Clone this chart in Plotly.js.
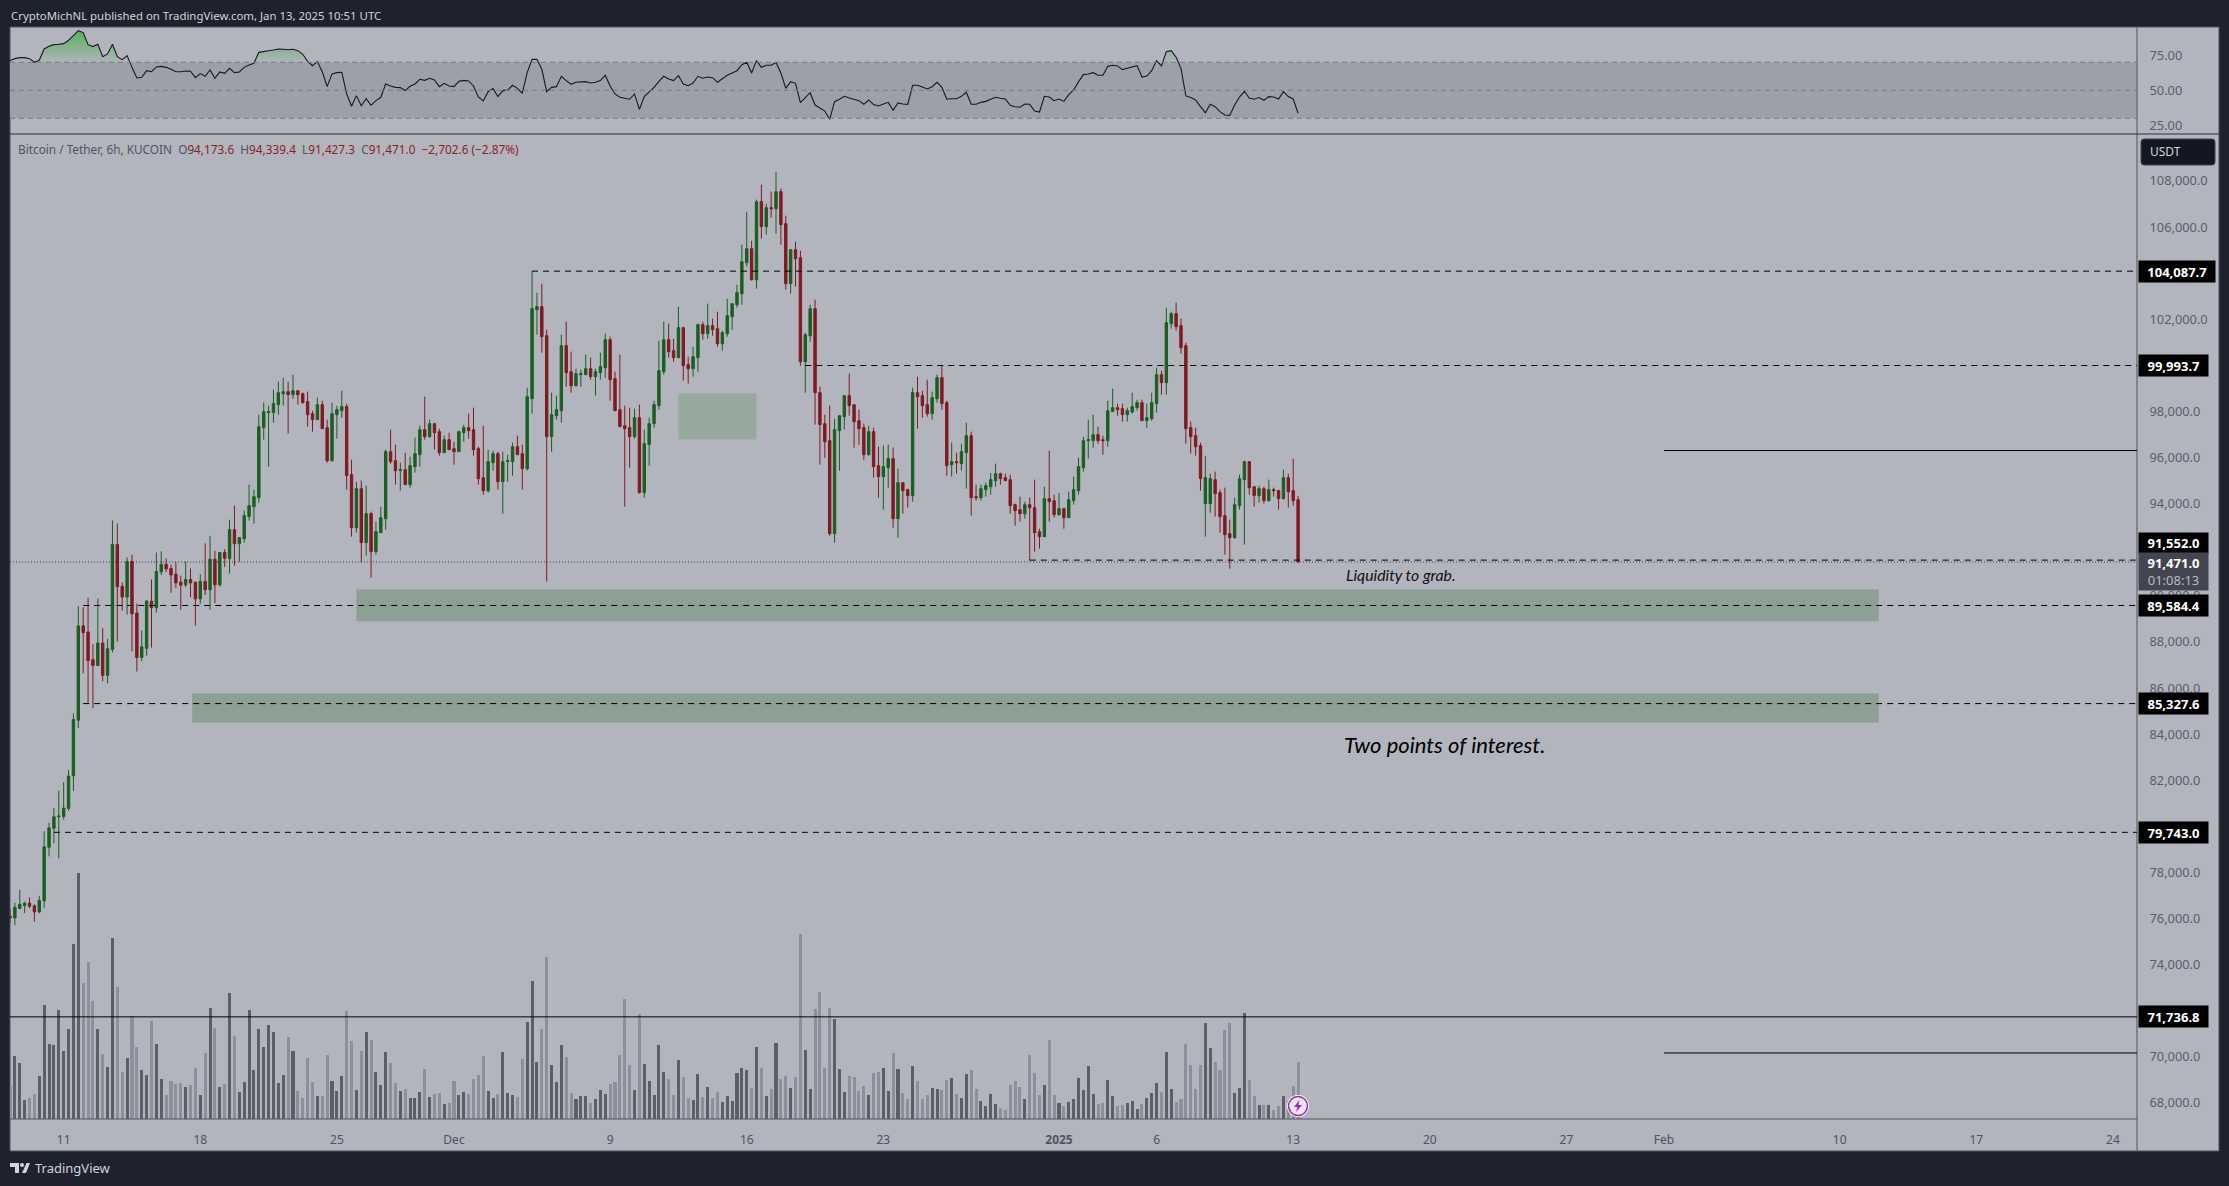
<!DOCTYPE html>
<html><head><meta charset="utf-8">
<script src="https://cdn.plot.ly/plotly-3.0.1.min.js"></script>
<style>html,body{margin:0;padding:0;background:#1e222d;overflow:hidden}#c{width:2229px;height:1186px}</style>
</head><body><div id="c"></div>
<script>
const firstBarUTC = Date.UTC(2024,10,8,6,0,0);
const barDir = ["duuudduuuu","uuuuudddud","uuddudduud","uuddddudd"+"u","dudududuuu","uuuuuuudud","dddudduuud","dududuuudd","uduuududdu","dduudddduu","duuudduuud","duuudduuud","uuudddddud","uuuuuddudd","uududduuuu","uududududd","udduuddddu","uuddddudd"+"u","ududdudddu","udduduuddu","uuudddddud","ddudduduuu","uuudduuddu","uuduuuduud","ddddduuddd","duuuddudud","duddd"].join("");
const highs = [76439,76687,77248,76736,76918,76621,76984,79789,80152,80795,
81554,81917,82445,84904,89557,89507,89920,87907,89887,88600,
88138,93270,93138,90580,91669,91785,89672,88501,89821,90712,
91884,91933,91620,91355,91454,90877,91488,91190,90613,90943,
92280,92610,91966,91884,92032,93307,93915,92527,93698,94826,
94609,97862,98383,98253,98947,99294,99467,99294,99598,98903,
98817,98860,98036,98600,98470,97645,98383,98253,98903,98340,
95910,94956,94999,94782,93654,93221,93871,96344,97212,96561,
95780,96214,96040,96865,97385,98643,97645,97472,97255,96951,
97081,96691,97168,97429,97906,98166,96474,97385,96344,96301,
96257,96257,96127,96648,96951,96561,99034,104087.7,103155,103545,
101550,98817,98687,101333,101897,100595,99858,99814,100465,100335,
99858,100552,101376,101246,99728,100465,98253,98166,98123,98296,
97212,97732,98470,101072,101897,101810,101159,102547,101680,100378,
100812,101810,101897,102678,102027,102330,101506,102894,102678,103502,
105237,106668,105410,107189,107840,107016,107536,108404,107666,106495,
105020,105367,104977,101419,102634,102851,99077,97862,98253,97689,
97819,98687,99641,98296,98079,97472,97385,97298,96474,96518,
96561,96431,95520,94912,94652,99034,99511,98903,99381,98860,
99598,99988,98470,96648,96214,96604,97515,97125,94826,94826,
94912,95332,95737,95346,95303,95260,94002,94305,94088,94262,
95043,92917,94739,96301,94392,94479,93828,94522,95173,95997,
96908,97645,97862,97342,96951,98470,98990,98340,98340,98166,
98817,98513,98513,98340,98817,99901,99771,102504,102330,102721,
102027,100986,97559,97298,96648,96084,95303,95390,94609,94696,
93307,94262,95260,95867,95823,94739,94782,94739,95043,94696,
94609,95476,95303,95954,94339.4];
const lows = [75796,75713,76406,76241,76456,75862,76225,76456,78700,79261,
78617,80300,80680,81538,84260,86636,85366,85135,86983,86290,
86207,87544,88022,89359,89177,87593,86719,87164,87412,87758,
89276,90910,91042,90134,90349,89392,90382,89936,88715,89656,
90035,89392,89689,90398,91256,90965,91312,91485,92310,93264,
93134,94045,96778,95607,97515,97862,98253,97038,98556,98296,
98340,97342,97125,97645,97255,95780,95823,96821,97732,94609,
92570,92743,91442,91746,90791,91789,92743,92874,95737,94826,
94565,94826,94696,95346,95607,96778,96865,96344,96084,96214,
96344,95693,96257,96691,96821,96084,94826,94392,94479,95433,
94609,93568,94956,95216,96127,94609,95433,97906,101333,100552,
90618,96257,97645,97515,99077,98817,99077,99077,99598,99381,
98687,99381,99467,98470,98036,97342,93871,95563,96821,94435,
94262,95650,97298,98079,99598,100335,100161,100335,99337,99207,
99511,99728,101116,101159,101289,100812,100639,101246,101550,102504,
102634,104283,103675,103328,105497,105671,106408,105714,105237,103285,
103111,103415,99988,98817,101029,97429,95693,95997,92613,92310,
95433,97212,97819,96431,96561,95910,96084,95129,94262,93741,
94696,92960,92527,93568,93828,94088,97255,97732,97776,97645,
98383,98079,95216,95173,95303,95433,94652,93481,94132,94132,
94305,94392,94739,94826,94999,93568,93047,93221,93351,91529,
91919,92049,92570,93221,93394,93481,92917,93394,93958,94392,
95390,95954,96431,96604,96127,96474,97992,97819,97559,97559,
97906,98036,97602,97298,97602,97949,98730,98730,101593,101506,
100509,96604,96171,96084,94565,92570,93611,93438,92743,91789,
91182,92483,93741,92223,94392,93871,94045,94002,94088,94305,
93741,94175,93828,93915,91427.3];
const bodyTops = [76109,76489,76621,76670,76670,76555,76786,79112,79937,80416,
80449,80795,82181,84640,88699,88699,88435,87230,87956,87956,
87709,92230,92230,90415,91488,91488,89260,87791,89771,89771,
91058,91372,91372,91190,90943,90596,90712,90712,90596,90629,
90629,91587,91587,91884,91884,92874,92874,92527,93481,93915,
94305,97342,97992,97992,98340,98817,98860,98860,98903,98903,
98773,98426,97906,98296,98296,97298,97906,98079,98209,98209,
95260,94652,94652,93568,93568,92787,93394,96257,96257,95867,
95476,95476,95650,96171,97212,97212,97472,97472,97125,96778,
96778,96387,97125,97298,97298,97212,96387,95129,95823,96171,
96171,95823,95867,96474,96474,96171,98643,102461,102547,102547,
101289,97862,98079,100856,100856,99728,99641,99641,99858,99858,
99728,99945,101116,101116,99424,98079,97385,97298,97732,97732,
96604,97472,98296,99771,101116,101116,100639,101636,101636,100031,
100378,101767,101767,101723,101723,101593,101419,102157,102678,103155,
104499,105063,105063,107102,107102,106842,106842,107536,107536,106148,
105020,105020,104673,101333,102461,102461,98817,97472,96734,97212,
97819,98687,98687,98296,97602,97298,97125,97125,95650,95607,
95954,95954,94912,94912,94609,98817,98817,98687,98296,98600,
99467,99467,98383,95823,95823,96257,96951,96951,94305,94652,
94782,95043,95303,95303,95129,95043,93958,93741,93958,93958,
93828,92787,94218,94218,94132,93785,93785,94175,94609,95607,
96734,96778,96995,96995,96778,98036,98166,98166,98123,98036,
98209,98383,98383,97732,98383,99598,99598,101853,102244,102244,
101723,100856,97298,96951,96518,95129,95086,95043,94479,93481,
92700,93958,95086,95823,95823,94739,94652,94652,94609,94609,
94565,95129,95129,94565,94173.6];
const bodyBottoms = [76027,76027,76439,76571,76538,76291,76291,76769,79096,79921,
80416,80432,80779,82198,84607,88402,87197,86983,86983,86554,
86554,87676,90398,89953,89953,89227,87329,87329,87725,89491,
89491,91042,91174,90910,90563,90464,90481,90563,89870,89870,
90266,90266,90481,90481,91636,91616,92266,92266,92483,93438,
93871,94262,97298,97949,97949,98296,98773,98730,98730,98730,
98383,97862,97645,97645,97255,95867,95867,97862,98036,95216,
92960,92960,92310,92310,91919,91919,92743,93351,95823,95433,
95433,94826,94826,95607,96127,96908,96908,97081,96214,96214,
96344,96257,96257,97081,97168,96344,95086,94565,94565,95780,
94956,94956,95823,95823,96127,95520,95520,98556,102417,101246,
96908,96908,97819,98036,99684,99120,99120,99598,99598,99511,
99511,99684,99901,99381,98036,97342,97255,96908,96908,94479,
94479,96561,97472,98253,99728,100595,100335,100335,99988,99858,
99858,100335,101376,101376,101550,100942,100942,101376,102114,102634,
103111,104456,103719,103719,106018,106018,106799,106799,106105,103545,
103545,104630,100161,100161,101289,98817,97429,96691,92700,92700,
97168,97776,98253,97559,97255,96127,96127,95607,95173,95173,
95563,93351,93351,94565,94349,94349,98643,98253,97906,97906,
98556,98340,95650,95693,95780,95737,96214,94262,94262,94262,
94609,94739,94999,95086,94999,93915,93698,93568,93568,93828,
92743,92570,92570,94088,93524,93524,93394,93394,94132,94565,
95563,96734,96734,96734,96734,96734,97992,98079,97862,97862,
97978,98166,97602,97602,97689,98340,99251,99251,101810,101680,
100769,97255,96908,96474,95086,94002,94002,94435,93438,92657,
92527,92527,93915,95043,94696,94349,94349,94132,94132,94565,
94218,94218,94522,94132,91471];
const volumes = [100,190,169,58,64,76,130,343,226,223,
328,205,271,526,739,409,472,355,271,196,
157,544,397,142,184,310,217,148,133,295,
226,121,73,115,106,109,97,103,154,73,
199,334,274,97,106,379,250,82,112,328,
148,271,217,283,262,109,133,247,205,85,
64,184,112,70,70,193,115,85,130,325,
235,88,205,262,238,142,103,202,169,109,
85,91,64,64,82,151,67,76,79,46,
49,115,73,82,76,121,133,190,85,64,
76,202,79,73,67,181,292,415,172,271,
487,163,112,223,187,79,61,70,70,49,
61,88,76,106,112,193,361,163,88,316,
166,115,73,223,142,121,73,178,127,64,
58,136,67,97,64,82,52,70,55,139,
154,148,94,217,154,70,91,229,121,130,
94,127,555,208,91,331,382,154,334,301,
151,82,130,127,85,100,73,139,142,154,
85,199,151,79,61,160,115,61,73,94,
91,88,118,124,76,64,136,148,91,55,
40,76,46,34,28,103,115,97,61,193,
139,73,103,238,73,49,40,52,61,124,
88,160,76,46,49,118,70,40,43,49,
55,31,46,64,79,109,82,202,91,52,
61,226,163,91,163,289,214,172,148,268,
289,79,94,319,118,70,43,43,43,28,
40,70,55,100,172];
const rsi = [71.2,72.6,73.3,73.3,72.6,70.0,71.4,79.5,81.4,82.6,
82.9,83.3,85.7,89.3,92.6,91.2,82.6,81.2,82.9,74.0,
76.0,82.9,74.0,71.9,74.8,66.4,58.8,59.3,64.0,63.3,
66.7,67.1,66.4,65.0,63.3,63.3,63.8,63.6,59.0,61.9,
60.0,64.5,58.6,63.1,62.1,65.7,62.6,63.1,66.4,68.1,
69.3,77.1,77.9,78.3,78.8,79.5,79.3,79.0,79.3,78.3,
75.7,70.7,67.6,70.5,63.3,52.6,61.7,62.6,62.9,47.4,
38.6,46.2,39.0,44.0,39.3,42.6,45.0,54.5,53.1,52.1,
51.9,49.8,52.9,54.5,57.9,57.1,58.6,57.4,52.6,55.0,
53.1,52.6,56.4,57.1,56.7,53.1,45.2,42.4,49.0,51.2,
45.5,49.8,50.2,53.6,51.4,47.9,62.6,72.1,72.1,65.0,
49.0,52.1,52.6,60.0,56.9,54.3,55.7,56.2,56.2,55.2,
55.7,56.9,60.7,53.1,47.4,45.0,44.5,43.6,47.4,36.4,
45.5,48.8,52.1,56.4,60.0,58.1,56.9,60.5,
54.5,53.3,55.2,60.0,58.6,59.5,59.0,55.7,58.1,60.7,
62.4,64.0,68.3,70.0,62.4,71.2,66.4,67.9,67.9,69.8,
62.4,51.4,56.2,55.0,41.2,45.0,48.3,39.5,37.1,35.2,
29.3,41.9,43.6,45.7,44.5,43.6,42.6,40.0,43.1,39.8,
38.8,40.2,41.4,35.7,41.0,40.2,40.0,53.6,53.6,52.4,
51.0,52.6,55.7,52.1,43.6,44.0,44.0,45.7,48.6,40.0,
40.0,41.4,42.1,43.6,45.0,44.3,43.8,39.3,38.3,37.9,
40.2,40.0,35.2,34.5,45.7,45.2,42.6,43.8,42.1,46.9,
50.2,56.0,61.2,61.7,62.6,60.7,60.7,67.1,67.9,67.4,
64.8,65.7,66.9,67.6,59.5,60.2,64.0,71.2,67.4,77.6,
78.3,73.6,65.7,46.0,44.8,43.1,38.3,34.0,40.0,38.3,
34.8,32.4,32.1,39.5,45.2,49.3,44.5,43.6,44.8,42.9,
45.5,45.2,43.8,49.0,45.5,43.8,33.6];
const priceTicks = [68000,70000,74000,76000,78000,82000,84000,86000,88000,90000,94000,96000,98000,102000,106000,108000];
const rsiTicks = [25,50,75];
const dateTicks = ["2024-11-11","2024-11-18","2024-11-25","2024-12-01","2024-12-09","2024-12-16","2024-12-23","2025-01-01","2025-01-06","2025-01-13","2025-01-20","2025-01-27","2025-02-01","2025-02-10","2025-02-17","2025-02-24"];
const dateLabels = ["11","18","25","Dec","9","16","23","<b>2025</b>","6","13","20","27","Feb","10","17","24"];
const dashedLevels = [[104087.7,"2024-12-05 00:00"],[99993.7,"2024-12-19 00:00"],[91552,"2024-12-30 12:00"],[89584.4,"2024-11-12 00:00"],[85327.6,"2024-11-12 00:00"],[79743,"2024-11-10 12:00"]];
const levelTags = [[104087.7,"104,087.7",76],[99993.7,"99,993.7",69],[89584.4,"89,584.4",69],[85327.6,"85,327.6",69],[79743,"79,743.0",69],[71736.8,"71,736.8",69]];
const zones = [["2024-11-26 00:00","2025-02-12 00:00",88902,90278,"#8ca095"],["2024-11-17 14:00","2025-02-12 00:00",84508,85766,"#8ca095"],["2024-12-12 12:00","2024-12-16 12:00",96785,98781,"#95a99e"]];
const shortLines = [96308,70170];

const W=2229,H=1186;
const px=x=>x/W, py=y=>1-y/H;
const PL=10,PR=2137,Rt=2219;
const fmtd=t=>new Date(t).toISOString().slice(0,19);
const dates=highs.map((_,i)=>fmtd(firstBarUTC+i*21600000));
const opens=highs.map((_,i)=>barDir[i]==="u"?bodyBottoms[i]:bodyTops[i]);
const closes=highs.map((_,i)=>barDir[i]==="u"?bodyTops[i]:bodyBottoms[i]);
const UP="#1a5e20",DN="#801922";
const FONT='"Noto Sans",sans-serif';
const XMAX="2025-02-25 05:40";

const traces=[
 {type:"bar",x:dates,y:volumes,yaxis:"y3",width:13500000,marker:{color:highs.map((_,i)=>barDir[i]==="u"?"#5d5e66":"#8d8f9a"),line:{width:0}},hoverinfo:"skip",showlegend:false},
 {type:"candlestick",x:dates,open:opens,high:highs,low:lows,close:closes,yaxis:"y",width:8800000,whiskerwidth:0,
  increasing:{line:{color:UP,width:1},fillcolor:UP},decreasing:{line:{color:DN,width:1},fillcolor:DN},hoverinfo:"skip",showlegend:false},
 {type:"scatter",mode:"lines",x:dates,y:rsi.map(()=>70),yaxis:"y2",line:{width:0},hoverinfo:"skip",showlegend:false},
 {type:"scatter",mode:"lines",x:dates,y:rsi.map(v=>Math.max(v,70)),yaxis:"y2",line:{width:0},fill:"tonexty",
  fillgradient:{type:"vertical",start:70,stop:92,colorscale:[[0,"rgba(76,175,80,0.03)"],[1,"rgba(76,175,80,0.85)"]]},hoverinfo:"skip",showlegend:false},
 {type:"scatter",mode:"lines",x:dates,y:rsi,yaxis:"y2",line:{color:"#17181c",width:1.1},hoverinfo:"skip",showlegend:false}
];

const shapes=[
 {type:"rect",xref:"paper",yref:"paper",x0:px(10),x1:px(Rt),y0:py(27),y1:py(1151),fillcolor:"#b2b5be",line:{color:"#50535e",width:1},layer:"below"},
 {type:"rect",xref:"x",yref:"y2",x0:dates[0],x1:XMAX,y0:30,y1:70,fillcolor:"#9da0a8",line:{width:0},layer:"below"},
 {type:"line",xref:"paper",yref:"paper",x0:px(PR),x1:px(PR),y0:py(27),y1:py(1151),line:{color:"#50535e",width:1}},
 {type:"line",xref:"paper",yref:"paper",x0:px(10),x1:px(Rt),y0:py(134),y1:py(134),line:{color:"#2a2e39",width:1}},
 {type:"line",xref:"paper",yref:"paper",x0:px(10),x1:px(PR),y0:py(1119),y1:py(1119),line:{color:"#50535e",width:1}},
];
[30,50,70].forEach(v=>shapes.push({type:"line",xref:"x",yref:"y2",x0:dates[0],x1:XMAX,y0:v,y1:v,line:{color:"#787b86",width:1,dash:"5px,4px"}}));
zones.forEach(z=>shapes.push({type:"rect",xref:"x",yref:"y",x0:z[0],x1:z[1],y0:z[2],y1:z[3],fillcolor:z[4],line:{width:0},layer:"below"}));
dashedLevels.forEach(l=>shapes.push({type:"line",xref:"x",yref:"y",x0:l[1],x1:XMAX,y0:l[0],y1:l[0],line:{color:"#000",width:1,dash:"6px,5px"}}));
shapes.push({type:"line",xref:"x",yref:"y",x0:dates[0],x1:XMAX,y0:closes[closes.length-1],y1:closes[closes.length-1],line:{color:"#3d3f48",width:1,dash:"1px,2px"}});
shapes.push({type:"line",xref:"x",yref:"y",x0:dates[0],x1:XMAX,y0:71736.8,y1:71736.8,line:{color:"#000",width:1}});
shortLines.forEach(p=>shapes.push({type:"line",xref:"x",yref:"y",x0:"2025-02-01 00:00",x1:XMAX,y0:p,y1:p,line:{color:"#000",width:1}}));
const poly=(pts,fill)=>({type:"path",xref:"paper",yref:"paper",path:"M"+pts.map(p=>px(p[0])+","+py(p[1])).join(" L")+" Z",fillcolor:fill,line:{width:0}});
shapes.push({type:"path",xref:"paper",yref:"paper",fillcolor:"#131722",line:{color:"#434651",width:1},
 path:"M"+px(2144)+","+py(139)+" L"+px(2212)+","+py(139)+" Q"+px(2215)+","+py(139)+" "+px(2215)+","+py(142)+" L"+px(2215)+","+py(162)+" Q"+px(2215)+","+py(165)+" "+px(2212)+","+py(165)+" L"+px(2144)+","+py(165)+" Q"+px(2141)+","+py(165)+" "+px(2141)+","+py(162)+" L"+px(2141)+","+py(142)+" Q"+px(2141)+","+py(139)+" "+px(2144)+","+py(139)+" Z"});
shapes.push(poly([[10,1163],[19,1163],[19,1173],[15,1173],[15,1167],[10,1167]],"#d1d4dc"));
shapes.push({type:"circle",xref:"paper",yref:"paper",x0:px(20),x1:px(24),y0:py(1167),y1:py(1163),fillcolor:"#d1d4dc",line:{width:0}});
shapes.push(poly([[22,1173],[26.5,1163],[30,1163],[26,1173]],"#d1d4dc"));
shapes.push({type:"circle",xref:"paper",yref:"paper",x0:px(1287),x1:px(1309),y0:py(1117),y1:py(1095),fillcolor:"#fff",line:{width:0}});
shapes.push({type:"circle",xref:"paper",yref:"paper",x0:px(1288.5),x1:px(1307.5),y0:py(1115.5),y1:py(1096.5),fillcolor:"#ece6f0",line:{color:"#9c27b0",width:1.5}});
shapes.push(poly([[1299.5,1100],[1294,1107],[1297.5,1107],[1296,1112],[1302,1105],[1298.5,1105]],"#9c27b0"));

const annotations=[];
const tag=(yv,yr,text,w,h,bg,fs)=>annotations.push({xref:"paper",x:px(PR+1),yref:yr,y:yv,xanchor:"left",yanchor:"middle",text:text,showarrow:false,width:w,height:h,align:"center",bgcolor:bg,borderpad:0,font:{family:FONT,size:fs||13,color:"#fff"}});
levelTags.forEach(t=>tag(t[0],"y","<b>"+t[1]+"</b>",t[2],21,"#000"));
tag(py(543),"paper","<b>91,552.0</b>",69,20,"#000");
tag(py(571.5),"paper",'<b>91,471.0</b><br><span style="color:#b8bbc4">01:08:13</span>',69,37,"#434651");
const txt=(x,y,text,size,color,extra)=>annotations.push(Object.assign({xref:"paper",yref:"paper",x:px(x),y:py(y),xanchor:"left",yanchor:"middle",text:text,showarrow:false,align:"left",font:{family:FONT,size:size,color:color}},extra||{}));
txt(9,15,"CryptoMichNL published on TradingView.com, Jan 13, 2025 10:51 UTC",11.4,"#d1d4dc");
const R=s=>'<span style="color:#8a1f28">'+s+'</span>';
txt(16,149,"Bitcoin / Tether, 6h, KUCOIN  O"+R("94,173.6")+"  H"+R("94,339.4")+"  L"+R("91,427.3")+"  C"+R("91,471.0")+"  "+R("−2,702.6 (−2.87%)"),11.8,"#50535e");
txt(2148,152,"USDT",12,"#d1d4dc");
txt(33,1168,"TradingView",13,"#d1d4dc");
annotations.push({xref:"x",yref:"y",x:"2025-01-15 15:00",y:90930,xanchor:"left",yanchor:"middle",text:"<i>Liquidity to grab.</i>",showarrow:false,font:{family:"Lato,sans-serif",size:15.8,color:"#111"}});
annotations.push({xref:"x",yref:"y",x:"2025-01-15 12:00",y:83540,xanchor:"left",yanchor:"middle",text:"<i>Two points of interest.</i>",showarrow:false,font:{family:"Lato,sans-serif",size:22,color:"#000"}});

const layout={width:W,height:H,margin:{l:0,r:0,t:0,b:0},paper_bgcolor:"#1e222d",plot_bgcolor:"rgba(0,0,0,0)",showlegend:false,bargap:0,dragmode:false,
 xaxis:{domain:[px(PL),px(PR)],type:"date",range:[dates[0],XMAX],rangeslider:{visible:false},showgrid:false,zeroline:false,showline:false,anchor:"y",
  tickmode:"array",tickvals:dateTicks,ticktext:dateLabels,ticks:"outside",ticklen:10,tickcolor:"rgba(0,0,0,0)",tickfont:{family:FONT,size:12,color:"#50535e"}},
 yaxis:{domain:[py(1119),py(135)],range:[67306,109995],side:"right",anchor:"x",showgrid:false,zeroline:false,showline:false,
  tickmode:"array",tickvals:priceTicks,ticktext:priceTicks.map(v=>v.toLocaleString("en-US",{minimumFractionDigits:1,maximumFractionDigits:1})),ticks:"outside",ticklen:9,tickcolor:"rgba(0,0,0,0)",tickfont:{family:FONT,size:12.8,color:"#5a5d69"}},
 yaxis2:{domain:[py(134),py(27)],range:[18.8,95.2],side:"right",anchor:"x",showgrid:false,zeroline:false,showline:false,
  tickmode:"array",tickvals:rsiTicks,ticktext:rsiTicks.map(v=>v.toFixed(2)),ticks:"outside",ticklen:9,tickcolor:"rgba(0,0,0,0)",tickfont:{family:FONT,size:12.8,color:"#5a5d69"}},
 yaxis3:{domain:[py(1119),py(135)],range:[0,2952],overlaying:"y",visible:false,anchor:"x"},
 shapes:shapes,annotations:annotations};
Plotly.newPlot("c",traces,layout,{staticPlot:true,displayModeBar:false});
</script></body></html>
